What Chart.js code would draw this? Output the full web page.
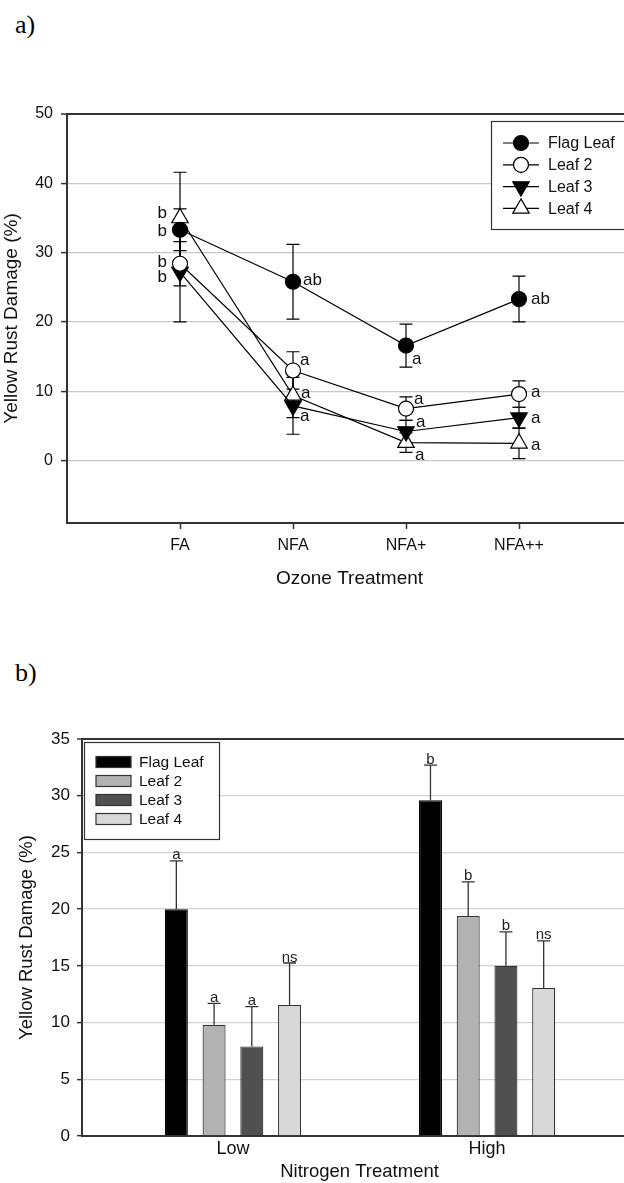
<!DOCTYPE html>
<html>
<head>
<meta charset="utf-8">
<script src="https://cdn.jsdelivr.net/npm/chart.js@4.4.0/dist/chart.umd.min.js"></script>
<style>
  html, body { margin: 0; padding: 0; background: #fff; overflow: hidden; }
  #page { position: relative; width: 624px; height: 1183px; overflow: hidden; }
  .panel { position: absolute; left: 15px; font-family: 'Liberation Serif', 'Times New Roman', serif; font-size: 26px; line-height: 1; color: #000; }
  #chartA { position: absolute; left: 0; top: 0; width: 660px; height: 600px; }
  #chartB { position: absolute; left: 0; top: 600px; width: 660px; height: 583px; }
</style>
</head>
<body>
<div id="page">
  <div class="panel" style="top:12px">a)</div>
  <div class="panel" style="top:660px">b)</div>
  <canvas id="chartA" width="660" height="600"></canvas>
  <canvas id="chartB" width="660" height="583"></canvas>
</div>
<script>
// Panel a - ozone treatments
const treatments = ['FA', 'NFA', 'NFA+', 'NFA++'];
const flagLeafA = [33.3, 25.8, 16.6, 23.3];
const flagLeafErrA = [3.0, 5.4, 3.1, 3.3];
const flagLeafLetA = ['b', 'ab', 'a', 'ab'];
const leaf2A = [28.4, 13.0, 7.5, 9.6];
const leaf2ErrA = [3.2, 2.7, 1.7, 1.9];
const leaf2LetA = ['b', 'a', 'a', 'a'];
const leaf3A = [27.2, 7.9, 4.2, 6.2];
const leaf3ErrA = [7.2, 4.1, 1.6, 1.5];
const leaf3LetA = ['b', 'a', 'a', 'a'];
const leaf4A = [35.0, 9.4, 2.6, 2.5];
const leaf4ErrA = [6.6, 3.2, 1.4, 2.2];
const leaf4LetA = ['b', 'a', 'a', 'a'];
const yTicksA = [0, 10, 20, 30, 40, 50];

// Panel b - nitrogen treatments
const nitrogen = ['Low', 'High'];
const flagLeafB = [20.0, 29.6];
const flagLeafErrB = [4.25, 3.1];
const flagLeafLetB = ['a', 'b'];
const leaf2B = [9.8, 19.4];
const leaf2ErrB = [1.9, 3.0];
const leaf2LetB = ['a', 'b'];
const leaf3B = [7.9, 15.0];
const leaf3ErrB = [3.5, 3.0];
const leaf3LetB = ['a', 'b'];
const leaf4B = [11.55, 13.05];
const leaf4ErrB = [3.7, 4.15];
const leaf4LetB = ['ns', 'ns'];
const yTicksB = [0, 5, 10, 15, 20, 25, 30, 35];

// where the significance letters sit next to each marker in panel a (px)
const letterOffsetA = [
  [[-13, 2], [10, -1], [6, 14], [12, 0]],
  [[-13, -1], [7, -10], [8, -9], [12, -2]],
  [[-13, 5], [7, 10], [10, -9], [12, 1]],
  [[-13, -5], [8, -2], [9, 13], [12, 2]]
];

const FONT = "'Liberation Sans', Arial, sans-serif";
Chart.defaults.font.family = FONT;
Chart.defaults.color = '#111';
const AXIS = '#333';
const GRID = '#c8c8c8';

const toXY = arr => arr.map((v, i) => ({ x: i + 1, y: v }));

function lineSet(label, vals, errs, lets, style) {
  return Object.assign({
    label: label,
    data: toXY(vals),
    errors: errs,
    letters: lets,
    borderColor: '#000',
    borderWidth: 1.2,
    pointBorderColor: '#000',
    pointBorderWidth: 1.2,
    tension: 0
  }, style);
}

const errorBarsA = {
  id: 'errorBarsA',
  beforeDatasetsDraw(chart) {
    const { ctx, scales: { x, y } } = chart;
    ctx.save();
    ctx.strokeStyle = '#000';
    ctx.lineWidth = 1.2;
    chart.data.datasets.forEach(ds => {
      ds.data.forEach((p, j) => {
        const px = x.getPixelForValue(p.x);
        const lo = y.getPixelForValue(p.y - ds.errors[j]);
        const hi = y.getPixelForValue(p.y + ds.errors[j]);
        ctx.beginPath();
        ctx.moveTo(px, lo); ctx.lineTo(px, hi);
        ctx.moveTo(px - 6.5, lo); ctx.lineTo(px + 6.5, lo);
        ctx.moveTo(px - 6.5, hi); ctx.lineTo(px + 6.5, hi);
        ctx.stroke();
      });
    });
    ctx.restore();
  },
  afterDatasetsDraw(chart) {
    const { ctx, scales: { x, y } } = chart;
    ctx.save();
    ctx.font = '17px ' + FONT;
    ctx.fillStyle = '#111';
    ctx.textBaseline = 'middle';
    chart.data.datasets.forEach((ds, i) => {
      ds.data.forEach((p, j) => {
        const [dx, dy] = letterOffsetA[i][j];
        ctx.textAlign = dx < 0 ? 'right' : 'left';
        ctx.fillText(ds.letters[j], x.getPixelForValue(p.x) + dx, y.getPixelForValue(p.y) + dy);
      });
    });
    ctx.restore();
  },
  afterDraw(chart) {
    const { ctx, chartArea } = chart;
    const bx = chartArea.left + 424, by = chartArea.top + 7;
    ctx.save();
    ctx.fillStyle = '#fff';
    ctx.fillRect(bx, by, 220, 108);
    ctx.strokeStyle = AXIS;
    ctx.lineWidth = 1.2;
    ctx.strokeRect(bx + 0.5, by + 0.5, 220, 108);
    ctx.font = '16px ' + FONT;
    ctx.textBaseline = 'middle';
    ctx.textAlign = 'left';
    chart.data.datasets.forEach((ds, i) => {
      const cy = by + 22 + i * 21.8;
      ctx.strokeStyle = '#000';
      ctx.lineWidth = 1.2;
      ctx.beginPath();
      ctx.moveTo(bx + 12, cy); ctx.lineTo(bx + 48, cy);
      ctx.stroke();
      ctx.fillStyle = ds.pointBackgroundColor;
      ctx.strokeStyle = '#000';
      Chart.helpers.drawPoint(ctx, {
        pointStyle: ds.pointStyle, radius: ds.pointRadius,
        rotation: ds.pointRotation || 0, borderWidth: 1.2
      }, bx + 30, cy);
      ctx.fillStyle = '#111';
      ctx.fillText(ds.label, bx + 57, cy + 1);
    });
    ctx.restore();
  }
};

new Chart(document.getElementById('chartA'), {
  type: 'line',
  data: {
    datasets: [
      lineSet('Flag Leaf', flagLeafA, flagLeafErrA, flagLeafLetA,
        { pointStyle: 'circle', pointRadius: 7.5, pointBackgroundColor: '#000' }),
      lineSet('Leaf 2', leaf2A, leaf2ErrA, leaf2LetA,
        { pointStyle: 'circle', pointRadius: 7.5, pointBackgroundColor: '#fff' }),
      lineSet('Leaf 3', leaf3A, leaf3ErrA, leaf3LetA,
        { pointStyle: 'triangle', pointRotation: 180, pointRadius: 9.5, pointBackgroundColor: '#000' }),
      lineSet('Leaf 4', leaf4A, leaf4ErrA, leaf4LetA,
        { pointStyle: 'triangle', pointRadius: 9.5, pointBackgroundColor: '#fff' })
    ]
  },
  options: {
    responsive: false,
    animation: false,
    layout: { padding: { top: 114, right: 28, left: 0, bottom: 0 } },
    plugins: { legend: { display: false }, tooltip: { enabled: false } },
    scales: {
      x: {
        type: 'linear', min: 0, max: 5, offset: false,
        afterBuildTicks: s => { s.ticks = treatments.map((_, i) => ({ value: i + 1 })); },
        afterFit: s => { s.height = 77; },
        ticks: { callback: v => treatments[v - 1], font: { size: 16 }, padding: 7, maxRotation: 0, autoSkip: false },
        grid: { drawOnChartArea: false, drawTicks: true, tickLength: 6, tickColor: AXIS, tickWidth: 1.5 },
        border: { display: true, color: AXIS, width: 2 },
        title: { display: true, text: 'Ozone Treatment', font: { size: 19 }, padding: { top: 0, bottom: 9.6 } }
      },
      y: {
        min: -9, max: 50,
        afterBuildTicks: s => { s.ticks = yTicksA.map(v => ({ value: v })); },
        afterFit: s => { s.width = 67; },
        ticks: { font: { size: 16 }, padding: 8 },
        grid: {
          color: c => (c.tick && c.tick.value === 50) ? AXIS : GRID,
          lineWidth: c => (c.tick && c.tick.value === 50) ? 2 : 1.2,
          tickLength: 6, tickColor: AXIS, tickWidth: 1.5
        },
        border: { display: true, color: AXIS, width: 2 },
        title: { display: true, text: 'Yellow Rust Damage (%)', font: { size: 19 }, padding: { top: 0, bottom: 0 } }
      }
    }
  },
  plugins: [errorBarsA]
});

// Panel b
function barSet(label, vals, errs, lets, color, edge) {
  return {
    label: label,
    data: toXY(vals),
    errors: errs,
    letters: lets,
    backgroundColor: color,
    borderColor: edge,
    borderWidth: 1.2,
    borderSkipped: 'bottom',
    categoryPercentage: 0.594,
    barPercentage: 0.61
  };
}

const errorBarsB = {
  id: 'errorBarsB',
  afterDatasetsDraw(chart) {
    const { ctx, scales: { y } } = chart;
    ctx.save();
    ctx.strokeStyle = AXIS;
    ctx.lineWidth = 1.3;
    ctx.fillStyle = '#222';
    ctx.font = '15px ' + FONT;
    ctx.textAlign = 'center';
    ctx.textBaseline = 'alphabetic';
    chart.data.datasets.forEach((ds, i) => {
      chart.getDatasetMeta(i).data.forEach((bar, j) => {
        const top = y.getPixelForValue(ds.data[j].y);
        const cap = y.getPixelForValue(ds.data[j].y + ds.errors[j]);
        ctx.beginPath();
        ctx.moveTo(bar.x, top); ctx.lineTo(bar.x, cap);
        ctx.moveTo(bar.x - 6.5, cap); ctx.lineTo(bar.x + 6.5, cap);
        ctx.stroke();
        ctx.fillText(ds.letters[j], bar.x, cap - 1.5);
      });
    });
    ctx.restore();
  },
  afterDraw(chart) {
    const { ctx, chartArea } = chart;
    const bx = chartArea.left + 2, by = chartArea.top + 3;
    ctx.save();
    ctx.fillStyle = '#fff';
    ctx.fillRect(bx, by, 135, 97);
    ctx.strokeStyle = AXIS;
    ctx.lineWidth = 1.2;
    ctx.strokeRect(bx + 0.5, by + 0.5, 135, 97);
    ctx.font = '15.5px ' + FONT;
    ctx.textBaseline = 'middle';
    ctx.textAlign = 'left';
    chart.data.datasets.forEach((ds, i) => {
      const cy = by + 20 + i * 19;
      ctx.fillStyle = ds.backgroundColor;
      ctx.fillRect(bx + 12, cy - 5.5, 35, 11);
      ctx.strokeStyle = AXIS;
      ctx.strokeRect(bx + 12, cy - 5.5, 35, 11);
      ctx.fillStyle = '#111';
      ctx.fillText(ds.label, bx + 55, cy + 1);
    });
    ctx.restore();
  }
};

new Chart(document.getElementById('chartB'), {
  type: 'bar',
  data: {
    datasets: [
      barSet('Flag Leaf', flagLeafB, flagLeafErrB, flagLeafLetB, '#000000', '#000'),
      barSet('Leaf 2', leaf2B, leaf2ErrB, leaf2LetB, '#b2b2b2', AXIS),
      barSet('Leaf 3', leaf3B, leaf3ErrB, leaf3LetB, '#505050', AXIS),
      barSet('Leaf 4', leaf4B, leaf4ErrB, leaf4LetB, '#d8d8d8', AXIS)
    ]
  },
  options: {
    responsive: false,
    animation: false,
    layout: { padding: { top: 139, right: 23, left: 0, bottom: 0 } },
    plugins: { legend: { display: false }, tooltip: { enabled: false } },
    scales: {
      x: {
        type: 'linear', min: 0.406, max: 2.59, offset: false,
        afterBuildTicks: s => { s.ticks = nitrogen.map((_, i) => ({ value: i + 1 })); },
        afterFit: s => { s.height = 47; },
        ticks: { callback: v => nitrogen[v - 1], font: { size: 18 }, padding: 2, maxRotation: 0, autoSkip: false },
        grid: { drawOnChartArea: false, drawTicks: false, offset: false },
        border: { display: true, color: AXIS, width: 2 },
        title: { display: true, text: 'Nitrogen Treatment', font: { size: 18.5 }, padding: { top: 0, bottom: 0 } }
      },
      y: {
        min: 0, max: 35,
        afterBuildTicks: s => { s.ticks = yTicksB.map(v => ({ value: v })); },
        afterFit: s => { s.width = 82; },
        ticks: { font: { size: 17 }, padding: 7 },
        grid: {
          color: c => (c.tick && c.tick.value === 35) ? AXIS : '#d2d2d2',
          lineWidth: c => (c.tick && c.tick.value === 35) ? 2 : 1.3,
          tickLength: 5, tickColor: AXIS, tickWidth: 1.5
        },
        border: { display: true, color: AXIS, width: 2 },
        title: { display: true, text: 'Yellow Rust Damage (%)', font: { size: 18.5 }, padding: { top: 16, bottom: 0 } }
      }
    }
  },
  plugins: [errorBarsB]
});
</script>
</body>
</html>
